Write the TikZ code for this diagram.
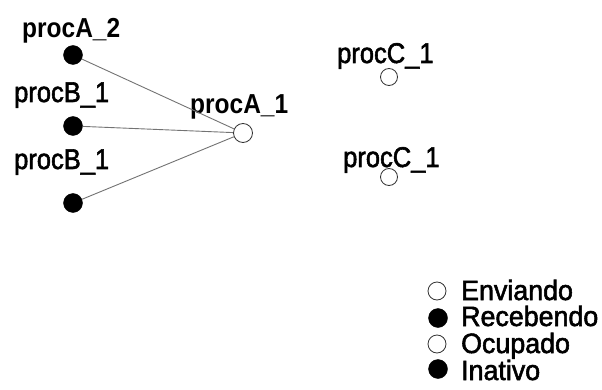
\documentclass[tikz,border=0pt]{standalone}
\usepackage{fontspec}
\setmainfont{Liberation Sans}
\newfontfamily\HeavyFont{Liberation Sans}[FakeBold=2]
\usetikzlibrary{positioning}

\begin{document}
\begin{tikzpicture}[x=1pt, y=-1pt,
		ProcLabel/.style={anchor=base west, inner sep=0pt, transform shape, yscale=1.12, font=\HeavyFont\fontsize{25.5}{25.5}\selectfont},
		ProcName/.style={ProcLabel, font=\fontsize{24.5}{24.5}\selectfont\bfseries},
		KeyLabel/.style={ProcLabel, yscale=0.93, text height=0.72em, text depth=0pt, font=\HeavyFont\fontsize{26.8}{26.8}\selectfont},
		BusyDot/.style={circle, draw=black, fill=black, minimum size=19pt, inner sep=0pt},
		FreeDot/.style={circle, draw=black!80, fill=white, line width=0.8pt, minimum size=19pt, inner sep=0pt},
		LinkLine/.style={black!55, line width=0.9pt}]
			\pgfmathsetmacro{\LeftColumn}{73}
			\pgfmathsetmacro{\RightColumn}{389}
			\useasboundingbox (0,0) rectangle (602,390);
			% processes on the left
			\node[BusyDot] (ProcATwo) at (\LeftColumn,55) {};
			\node[BusyDot] (ProcBOne) at (\LeftColumn,126) {};
			\node[BusyDot] (ProcBTwo) at (\LeftColumn,203) {};
			\node[FreeDot] (ProcAOne) at (243,133) {};
			\node[ProcName] (ProcATwoText) at (22,38) {procA\_2};
			\node[ProcLabel] (ProcBOneText) at (14,102) {procB\_1};
			\node[ProcLabel] (ProcBTwoText) at (14,169) {procB\_1};
			\node[ProcName] (ProcAOneText) at (190,114) {procA\_1};
			\draw [LinkLine] (ProcATwo) -- (ProcAOne);
			\draw [LinkLine] (ProcBOne) -- (ProcAOne);
			\draw [LinkLine] (ProcBTwo) -- (ProcAOne);
			% processes on the right
			\node[FreeDot, minimum size=17pt] (ProcCOne) at (\RightColumn,77) {};
			\node[FreeDot, minimum size=17pt] (ProcCTwo) at (\RightColumn,177) {};
			\node[ProcLabel] (ProcCOneText) at (337,63) {procC\_1};
			\node[ProcLabel] (ProcCTwoText) at (343,167) {procC\_1};
			% legend
			\node[FreeDot, minimum size=18pt] (KeySend) at (437,291) {};
			\node[BusyDot] (KeyRecv) at (438,318) {};
			\node[FreeDot, minimum size=18pt] (KeyBusy) at (437,344) {};
			\node[BusyDot] (KeyIdle) at (438,369) {};
			\node[KeyLabel] (KeySendText) at (461,300) {Enviando};
			\node[KeyLabel] (KeyRecvText) at (461,326) {Recebendo};
			\node[KeyLabel] (KeyBusyText) at (461,353) {Ocupado};
			\node[KeyLabel] (KeyIdleText) at (461,380) {Inativo};
		\end{tikzpicture}
\end{document}
